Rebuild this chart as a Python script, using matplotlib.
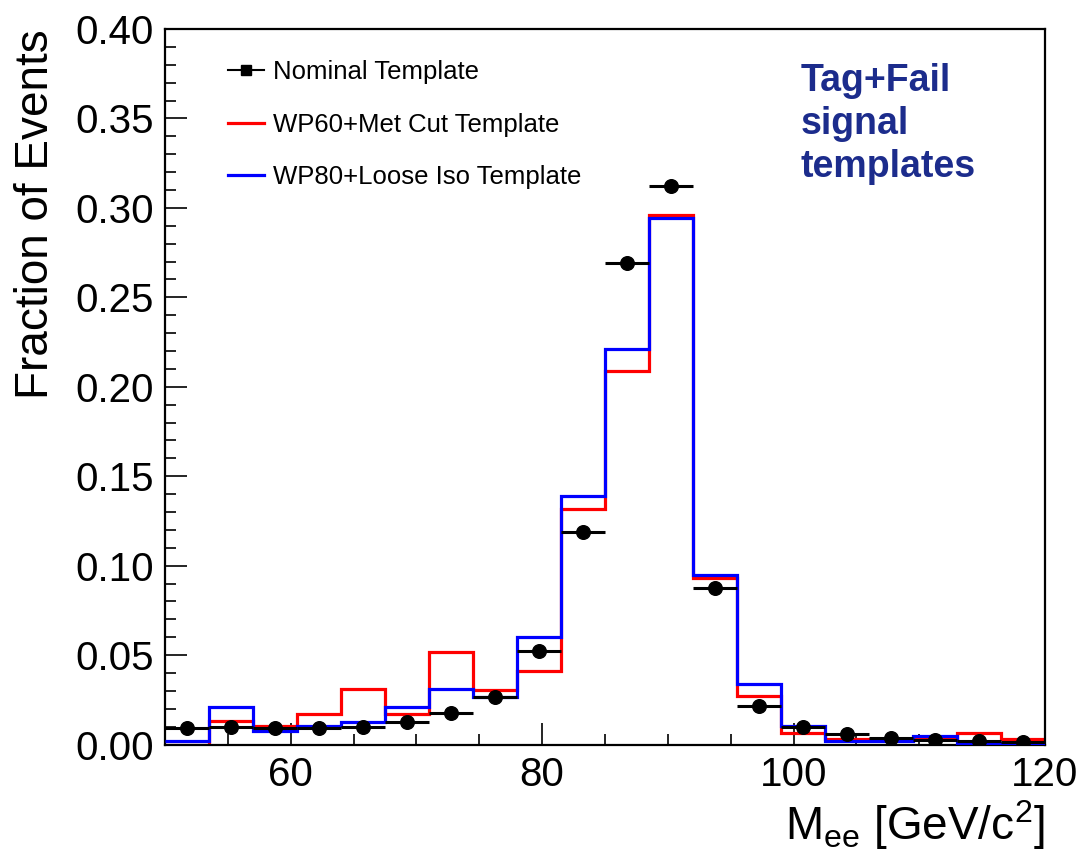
import numpy as np
import matplotlib
matplotlib.use("Agg")
import matplotlib.pyplot as plt
from matplotlib.lines import Line2D
from matplotlib.ticker import MultipleLocator, FormatStrFormatter

plt.rcParams['font.family'] = ['Liberation Sans', 'DejaVu Sans']
plt.rcParams['mathtext.fontset'] = 'custom'
plt.rcParams['mathtext.rm'] = 'Liberation Sans'
plt.rcParams['mathtext.it'] = 'Liberation Sans:italic'

# ---- data ----
bin_edges = np.linspace(50, 120, 21)
nominal = [0.0095, 0.0097, 0.0093, 0.0093, 0.0097, 0.0125, 0.0177, 0.0268, 0.0521, 0.119,
           0.269, 0.312, 0.0875, 0.0218, 0.0097, 0.0058, 0.0037, 0.0028, 0.0019, 0.0013]
wp60_met = [0.0, 0.0132, 0.0102, 0.0168, 0.0309, 0.0168, 0.0516, 0.0307, 0.0413, 0.1315,
            0.2086, 0.2959, 0.0933, 0.0274, 0.0065, 0.0032, 0.0026, 0.0037, 0.0063, 0.0030]
wp80_iso = [0.0022, 0.0208, 0.0073, 0.0102, 0.0127, 0.0207, 0.0313, 0.0264, 0.0603, 0.1391,
            0.2209, 0.2946, 0.0945, 0.0339, 0.0101, 0.0019, 0.0022, 0.0050, 0.0007, 0.0007]
labels = ["Nominal Template", "WP60+Met Cut Template", "WP80+Loose Iso Template"]

centers = 0.5 * (bin_edges[:-1] + bin_edges[1:])
halfw = 0.5 * np.diff(bin_edges)

fig = plt.figure(figsize=(10.8, 8.5), dpi=100)
ax = fig.add_axes([0.1528, 0.1241, 0.8148, 0.8418])

ax.stairs(wp60_met, bin_edges, color='#ff0000', lw=2.3, baseline=None, zorder=2)
ax.stairs(wp80_iso, bin_edges, color='#0000ff', lw=2.3, baseline=None, zorder=3)
ax.errorbar(centers, nominal, xerr=halfw, fmt='o', color='black', ms=9.8,
            elinewidth=2.2, capsize=0, zorder=4)

ax.set_xlim(50, 120)
ax.set_ylim(0, 0.40)

ax.xaxis.set_major_locator(MultipleLocator(20))
ax.xaxis.set_minor_locator(MultipleLocator(5))
ax.yaxis.set_major_locator(MultipleLocator(0.05))
ax.yaxis.set_minor_locator(MultipleLocator(0.01))
ax.yaxis.set_major_formatter(FormatStrFormatter('%.2f'))
ax.xaxis.set_major_formatter(FormatStrFormatter('%d'))

ax.tick_params(which='both', direction='in', top=False, right=False, labelsize=29, width=1.2)
ax.tick_params(which='major', length=16, pad=8)
ax.tick_params(which='minor', length=8)
for s in ax.spines.values():
    s.set_linewidth(1.6)

ax.set_ylabel("Fraction of Events", fontsize=33, loc='top')
ax.yaxis.set_label_coords(-0.122, 1.0)
ax.set_xlabel(r"M$_{\mathrm{ee}}$ [GeV/c$^{2}$]", fontsize=33, loc='right')
ax.xaxis.set_label_coords(1.0, -0.075)

handles = [
    Line2D([], [], color='black', lw=1.5, marker='s', ms=7),
    Line2D([], [], color='#ff0000', lw=2.3),
    Line2D([], [], color='#0000ff', lw=2.3),
]
ax.legend(handles, labels, loc='upper left', bbox_to_anchor=(0.072, 0.957),
          frameon=False, fontsize=18.5, handlelength=1.4, handletextpad=0.35,
          labelspacing=1.12, borderpad=0, borderaxespad=0)

ax.text(0.722, 0.952, "Tag+Fail\nsignal\ntemplates", transform=ax.transAxes,
        ha='left', va='top', fontsize=27, fontweight='bold', color='#1c2c8c',
        linespacing=1.24)

fig.savefig("out.png", dpi=100)
